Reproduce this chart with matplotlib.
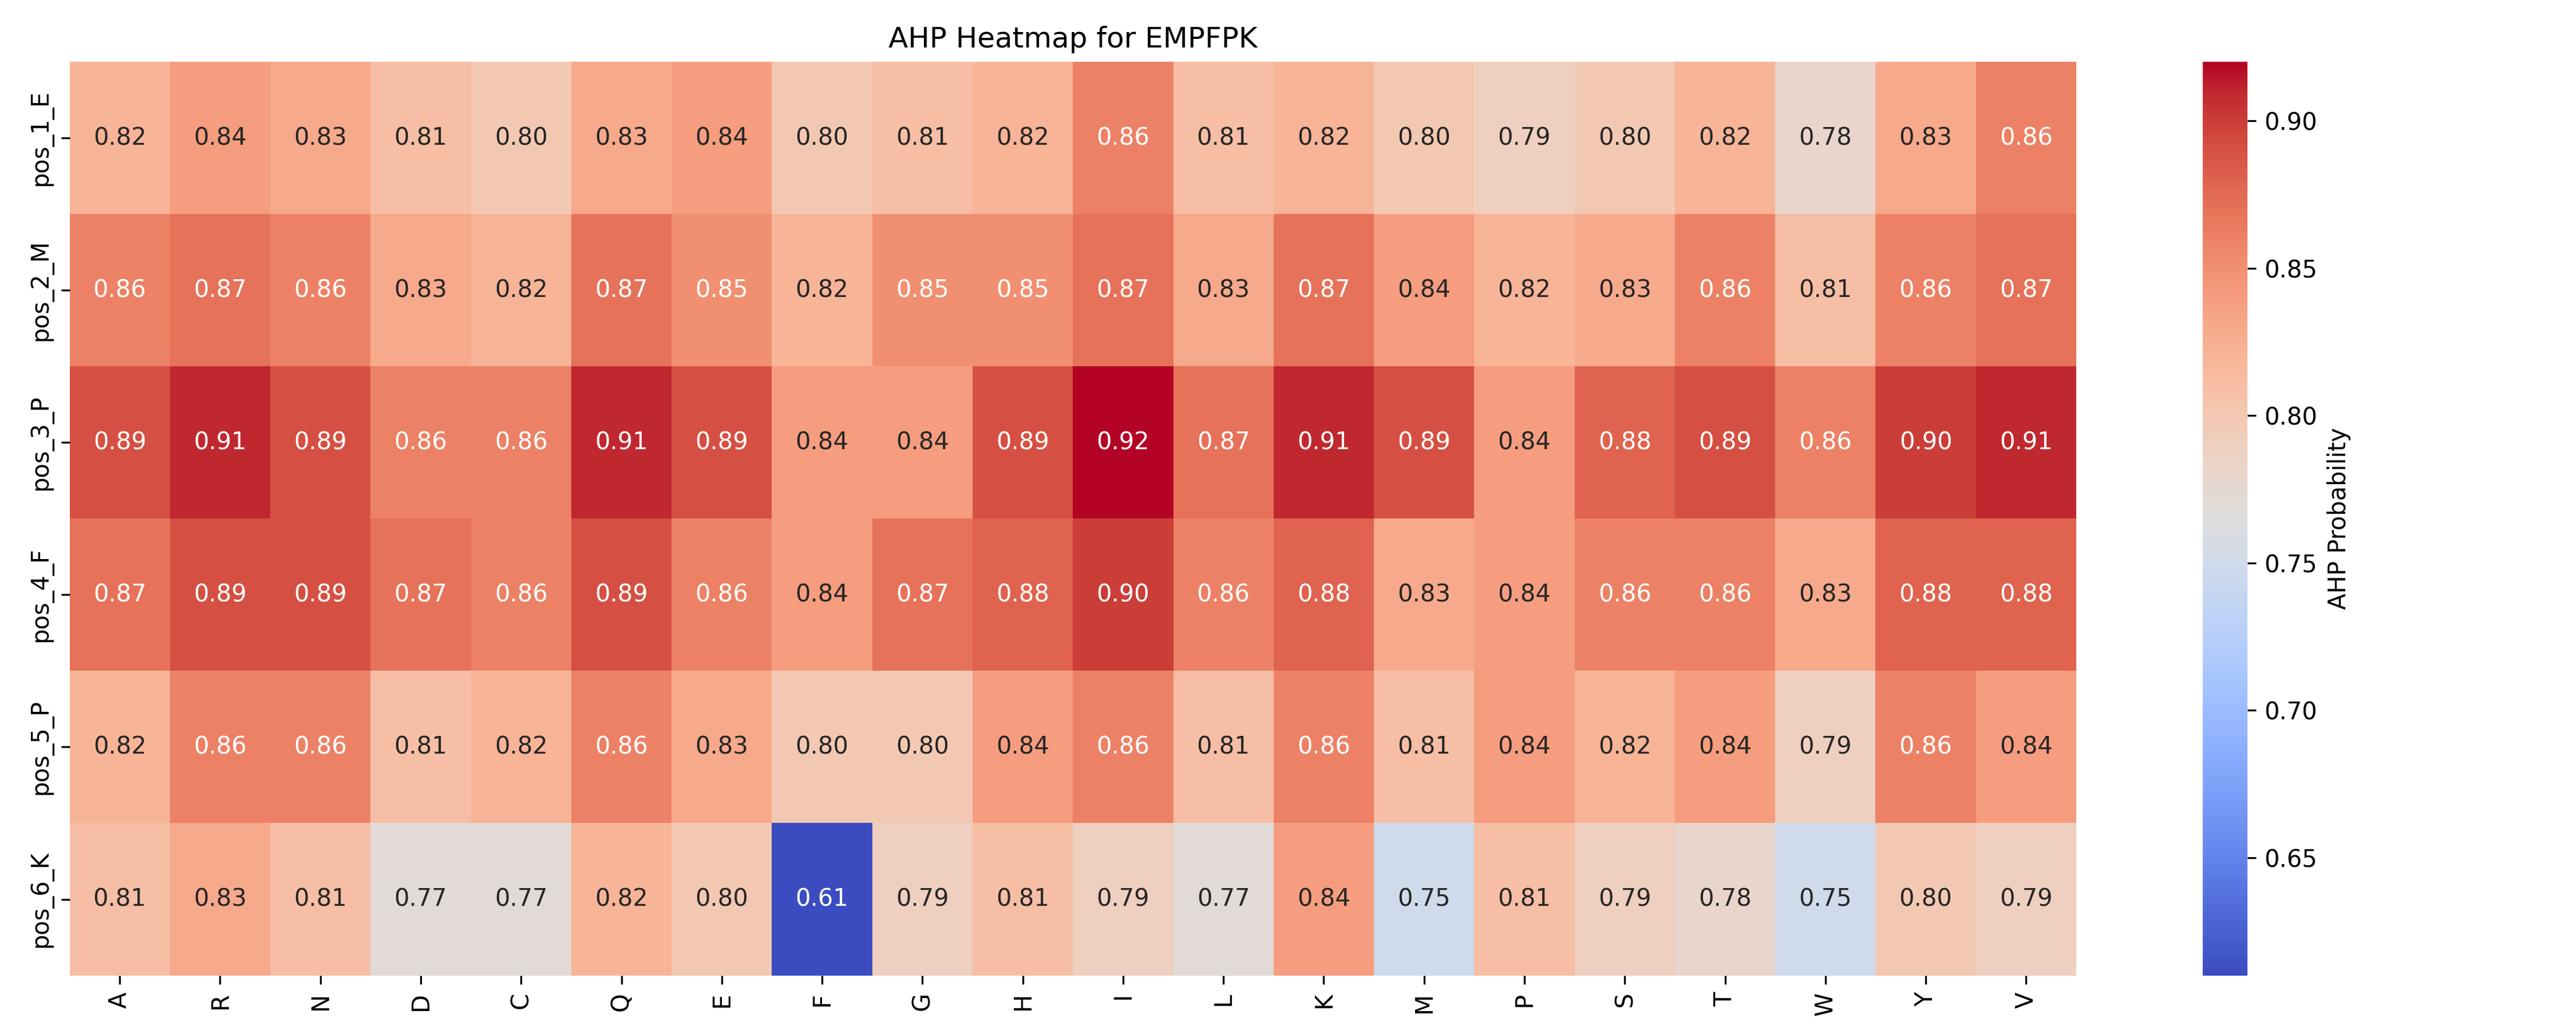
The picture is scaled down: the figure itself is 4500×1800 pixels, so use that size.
import matplotlib
matplotlib.use("Agg")
import matplotlib.pyplot as plt
import seaborn as sns
import numpy as np

amino = ["A","R","N","D","C","Q","E","F","G","H","I","L","K","M","P","S","T","W","Y","V"]
positions = ["pos_1_E","pos_2_M","pos_3_P","pos_4_F","pos_5_P","pos_6_K"]
row1 = [0.82,0.84,0.83,0.81,0.80,0.83,0.84,0.80,0.81,0.82,0.86,0.81,0.82,0.80,0.79,0.80,0.82,0.78,0.83,0.86]
row2 = [0.86,0.87,0.86,0.83,0.82,0.87,0.85,0.82,0.85,0.85,0.87,0.83,0.87,0.84,0.82,0.83,0.86,0.81,0.86,0.87]
row3 = [0.89,0.91,0.89,0.86,0.86,0.91,0.89,0.84,0.84,0.89,0.92,0.87,0.91,0.89,0.84,0.88,0.89,0.86,0.90,0.91]
row4 = [0.87,0.89,0.89,0.87,0.86,0.89,0.86,0.84,0.87,0.88,0.90,0.86,0.88,0.83,0.84,0.86,0.86,0.83,0.88,0.88]
row5 = [0.82,0.86,0.86,0.81,0.82,0.86,0.83,0.80,0.80,0.84,0.86,0.81,0.86,0.81,0.84,0.82,0.84,0.79,0.86,0.84]
row6 = [0.81,0.83,0.81,0.77,0.77,0.82,0.80,0.61,0.79,0.81,0.79,0.77,0.84,0.75,0.81,0.79,0.78,0.75,0.80,0.79]
data = np.array([row1,row2,row3,row4,row5,row6])

fig = plt.figure(figsize=(15, 6), dpi=300)
ax = fig.add_axes([0.027, 0.053, 0.779, 0.887])
cax = fig.add_axes([0.855, 0.053, 0.0175, 0.887])
sns.heatmap(data, ax=ax, cbar_ax=cax, cmap="coolwarm", annot=True, fmt=".2f",
            xticklabels=amino, yticklabels=positions,
            cbar_kws={"label": "AHP Probability"}, annot_kws={"fontsize": 10})
ax.set_title("AHP Heatmap for EMPFPK", fontsize=12)
ax.tick_params(axis="x", rotation=90, labelsize=10)
ax.tick_params(axis="y", rotation=90, labelsize=10)
for t in ax.get_yticklabels():
    t.set_va("center")
cax.tick_params(labelsize=10)
fig.savefig("out.png", dpi=300)
